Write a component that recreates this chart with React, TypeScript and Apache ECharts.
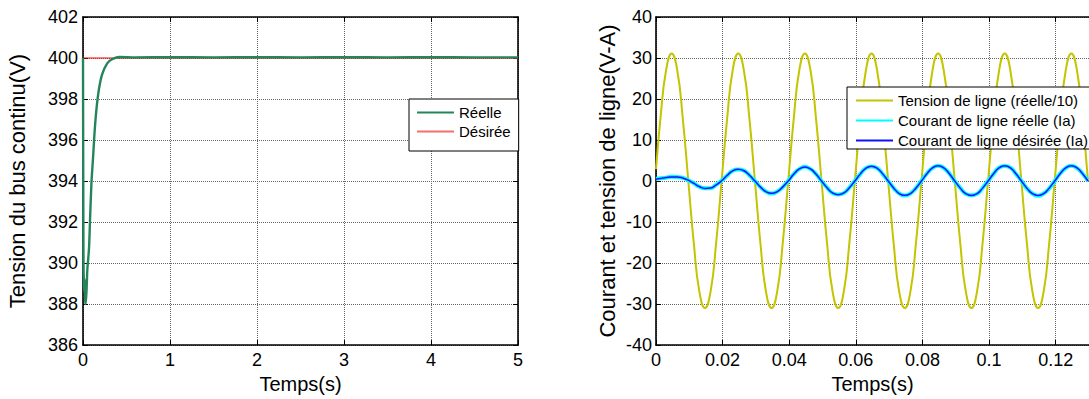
import React, { useEffect, useRef } from "react";
import * as echarts from "echarts";

// ---------- Left chart: DC bus voltage ----------
const busTime = [0, 0.003, 0.006, 0.01, 0.015, 0.02, 0.025, 0.03, 0.04, 0.05, 0.06, 0.07, 0.08, 0.097, 0.115, 0.135, 0.157, 0.184, 0.22, 0.28, 0.34, 0.42, 0.6, 1.0, 1.5, 2.0, 2.5, 3.0, 3.5, 4.0, 4.5, 5.0];
const busReal = [400, 394, 390, 389, 388.6, 389.2, 388.2, 388.0, 388.6, 389.7, 390.2, 390.8, 392.0, 393.9, 395.1, 396.5, 397.6, 398.5, 399.2, 399.75, 399.95, 400.05, 400.03, 400.04, 400.03, 400.04, 400.03, 400.04, 400.03, 400.04, 400.03, 400.03];
const busDesiredTime = [0, 5];
const busDesired = [400, 400];

// ---------- Right chart: line voltage & currents ----------
const lineTime = [
  0, 0.0014, 0.003, 0.0047, 0.0064, 0.008, 0.0097, 0.0114, 0.013, 0.0147, 0.0164, 0.018, 0.0197,
  0.0214, 0.023, 0.0247, 0.0264, 0.028, 0.0297, 0.0314, 0.033, 0.0347, 0.0364, 0.038, 0.0397,
  0.0414, 0.043, 0.0447, 0.0464, 0.048, 0.0497, 0.0514, 0.053, 0.0547, 0.0564, 0.058, 0.0597,
  0.0614, 0.063, 0.0647, 0.0664, 0.068, 0.0697, 0.0714, 0.073, 0.0747, 0.0764, 0.078, 0.0797,
  0.0814, 0.083, 0.0847, 0.0864, 0.088, 0.0897, 0.0914, 0.093, 0.0947, 0.0964, 0.098, 0.0997,
  0.1014, 0.103, 0.1047, 0.1064, 0.108, 0.1097, 0.1114, 0.113, 0.1147, 0.1164, 0.118, 0.1197,
  0.1214, 0.123, 0.1247, 0.1264, 0.128, 0.1297,
];
const lineVoltage = [
  2.9, 15.8, 26.9, 31.1, 26.9, 15.6, 0, -15.6, -26.9, -31.0, -26.9, -15.6, 0,
  15.6, 26.9, 31.1, 26.9, 15.6, 0, -15.6, -26.9, -31.0, -26.9, -15.6, 0,
  15.6, 26.9, 31.1, 26.9, 15.6, 0, -15.6, -26.9, -31.0, -26.9, -15.6, 0,
  15.6, 26.9, 31.1, 26.9, 15.6, 0, -15.6, -26.9, -31.0, -26.9, -15.6, 0,
  15.6, 26.9, 31.1, 26.9, 15.6, 0, -15.6, -26.9, -31.0, -26.9, -15.6, 0,
  15.6, 26.9, 31.1, 26.9, 15.6, 0, -15.6, -26.9, -31.0, -26.9, -15.6, 0,
  15.6, 26.9, 31.1, 26.9, 15.6, 0,
];
const currentDesired = [
  0.45, 0.6, 0.85, 1.0, 1.0, 0.75, 0.2, -0.6, -1.35, -1.8, -1.7, -1.0, 0.05,
  1.4, 2.45, 2.85, 2.5, 1.45, 0, -1.5, -2.6, -3.0, -2.6, -1.5, 0,
  1.7, 2.95, 3.4, 2.95, 1.7, 0, -1.7, -2.9, -3.35, -2.9, -1.7, 0,
  1.8, 3.1, 3.6, 3.1, 1.8, 0, -1.75, -3.05, -3.5, -3.05, -1.75, 0,
  1.85, 3.2, 3.7, 3.2, 1.85, 0, -1.8, -3.1, -3.55, -3.1, -1.8, 0,
  1.85, 3.2, 3.7, 3.2, 1.85, 0, -1.8, -3.1, -3.55, -3.1, -1.8, 0,
  1.85, 3.2, 3.7, 3.2, 1.85, 0,
];
const currentReal = [
  0.5, 0.65, 0.8, 1.05, 0.95, 0.8, 0.15, -0.55, -1.4, -1.75, -1.75, -0.95, 0.1,
  1.35, 2.5, 2.8, 2.55, 1.4, 0.05, -1.55, -2.55, -3.05, -2.55, -1.55, 0.05,
  1.75, 2.9, 3.45, 2.9, 1.75, -0.05, -1.65, -2.95, -3.3, -2.95, -1.65, 0.05,
  1.75, 3.15, 3.55, 3.15, 1.75, 0.05, -1.8, -3.0, -3.55, -3.0, -1.8, 0.05,
  1.9, 3.15, 3.75, 3.15, 1.9, -0.05, -1.75, -3.15, -3.5, -3.15, -1.75, 0.05,
  1.8, 3.25, 3.65, 3.25, 1.8, 0.05, -1.85, -3.05, -3.6, -3.05, -1.85, 0,
  1.9, 3.15, 3.75, 3.15, 1.9, 0,
];

const leftXTicks = { min: 0, max: 5, interval: 1 };
const leftYTicks = { min: 386, max: 402, interval: 2 };
const rightXTicks = { min: 0, max: 0.13, interval: 0.02 };
const rightYTicks = { min: -40, max: 40, interval: 10 };

const FONT = "Liberation Sans, Arial, sans-serif";

function zip(xs: number[], ys: number[]) {
  return xs.map((x, i) => [x, ys[i]]);
}

export default function App() {
  const ref = useRef<HTMLDivElement>(null);
  useEffect(() => {
    if (!ref.current) return;
    const chart = echarts.init(ref.current, null, { renderer: "svg" });
    const axisLine = { show: true, onZero: false, lineStyle: { color: "#000", width: 1.6 } };
    const tick = { show: true, inside: true, length: 5, lineStyle: { color: "#000", width: 1 } };
    const split = { show: true, lineStyle: { color: "#666", type: "dotted" as const, width: 1 } };
    const label = { color: "#000", fontSize: 18, fontFamily: FONT };
    const fmt = (v: number) => String(+v.toFixed(2));
    const legendCommon = {
      orient: "vertical" as const,
      icon: "rect",
      itemWidth: 37,
      itemHeight: 2,
      backgroundColor: "#fff",
      borderColor: "#000",
      borderWidth: 1,
      borderRadius: 0,
      textStyle: { color: "#000", fontSize: 15, fontFamily: FONT, lineHeight: 15 },
    };

    chart.setOption({
      animation: false,
      backgroundColor: "#fff",
      grid: [
        { left: 83, top: 17, width: 435, height: 337 },
        { left: 656, top: 17, width: 434, height: 337 },
      ],
      xAxis: [
        {
          type: "value", gridIndex: 0, ...leftXTicks, axisLine, axisTick: tick, splitLine: split,
          axisLabel: { ...label, margin: 6, formatter: fmt },
          name: "Temps(s)", nameLocation: "middle", nameGap: 20,
          nameTextStyle: { color: "#000", fontSize: 20, fontFamily: FONT, verticalAlign: "top" },
        },
        {
          type: "value", gridIndex: 0, position: "top", ...leftXTicks, axisLine, axisTick: tick,
          splitLine: { show: false }, axisLabel: { show: false },
        },
        {
          type: "value", gridIndex: 1, ...rightXTicks, axisLine, axisTick: tick, splitLine: split,
          axisLabel: { ...label, margin: 6, formatter: fmt, showMaxLabel: false },
          name: "Temps(s)", nameLocation: "middle", nameGap: 29,
          nameTextStyle: { color: "#000", fontSize: 20, fontFamily: FONT, verticalAlign: "top" },
        },
        {
          type: "value", gridIndex: 1, position: "top", ...rightXTicks, axisLine, axisTick: tick,
          splitLine: { show: false }, axisLabel: { show: false },
        },
      ],
      yAxis: [
        {
          type: "value", gridIndex: 0, ...leftYTicks, axisLine, axisTick: tick, splitLine: split,
          axisLabel: { ...label, margin: 5 },
          name: "Tension du bus continu(V)", nameLocation: "middle", nameGap: 55,
          nameTextStyle: { color: "#000", fontSize: 22, fontFamily: FONT },
        },
        {
          type: "value", gridIndex: 0, position: "right", ...leftYTicks, axisLine, axisTick: tick,
          splitLine: { show: false }, axisLabel: { show: false },
        },
        {
          type: "value", gridIndex: 1, ...rightYTicks, axisLine, axisTick: tick, splitLine: split,
          axisLabel: { ...label, margin: 4 },
          name: "Courant et tension de ligne(V-A)", nameLocation: "middle", nameGap: 38,
          nameTextStyle: { color: "#000", fontSize: 22, fontFamily: FONT },
        },
      ],
      legend: [
        {
          ...legendCommon, left: 409, top: 99, padding: [6, 8, 12, 8], itemGap: 4,
          data: ["Réelle", "Désirée"],
        },
        {
          ...legendCommon, left: 847, top: 87, padding: [6, 8, 1, 9], itemGap: 5,
          data: ["Tension de ligne (réelle/10)", "Courant de ligne réelle (Ia)", "Courant de ligne désirée (Ia)"],
        },
      ],
      series: [
        {
          name: "Désirée", type: "line", xAxisIndex: 0, yAxisIndex: 0, symbol: "none",
          data: zip(busDesiredTime, busDesired), lineStyle: { color: "#ff0000", width: 1.2 },
          itemStyle: { color: "#f07070" },
        },
        {
          name: "Réelle", type: "line", xAxisIndex: 0, yAxisIndex: 0, symbol: "none", smooth: 0.3,
          data: zip(busTime, busReal), lineStyle: { color: "#24855a", width: 2.4 },
          itemStyle: { color: "#24855a" },
        },
        {
          name: "Tension de ligne (réelle/10)", type: "line", xAxisIndex: 2, yAxisIndex: 2, symbol: "none",
          smooth: 0.5, data: zip(lineTime, lineVoltage), lineStyle: { color: "#c4c400", width: 2 },
          itemStyle: { color: "#c4c400" },
        },
        {
          name: "Courant de ligne réelle (Ia)", type: "line", xAxisIndex: 2, yAxisIndex: 2, symbol: "none",
          smooth: 0.5, data: zip(lineTime, currentReal), lineStyle: { color: "#00ffff", width: 4 },
          itemStyle: { color: "#00ffff" },
        },
        {
          name: "Courant de ligne désirée (Ia)", type: "line", xAxisIndex: 2, yAxisIndex: 2, symbol: "none",
          smooth: 0.5, data: zip(lineTime, currentDesired), lineStyle: { color: "#1010ff", width: 1.5 },
          itemStyle: { color: "#1010ff" },
        },
      ],
    });
    return () => chart.dispose();
  }, []);
  return (
    <div
      ref={ref}
      style={{ position: "fixed", left: 0, top: 0, width: 1089, height: 399, background: "#fff" }}
    />
  );
}
